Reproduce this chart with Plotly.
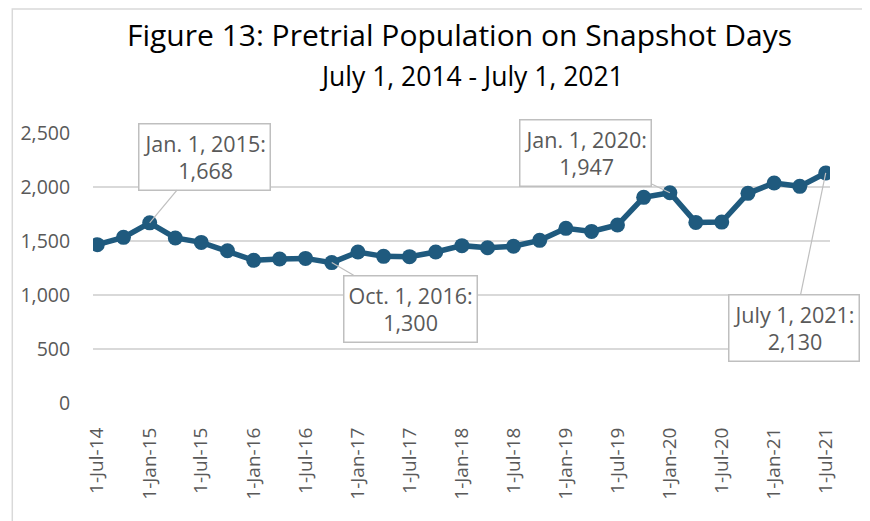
import plotly.graph_objects as go

dates = ["2014-07-01", "2014-10-01", "2015-01-01", "2015-04-01", "2015-07-01", "2015-10-01",
         "2016-01-01", "2016-04-01", "2016-07-01", "2016-10-01", "2017-01-01", "2017-04-01",
         "2017-07-01", "2017-10-01", "2018-01-01", "2018-04-01", "2018-07-01", "2018-10-01",
         "2019-01-01", "2019-04-01", "2019-07-01", "2019-10-01", "2020-01-01", "2020-04-01",
         "2020-07-01", "2020-10-01", "2021-01-01", "2021-04-01", "2021-07-01"]
population = [1466, 1534, 1668, 1528, 1487, 1410, 1321, 1333, 1339, 1300, 1398, 1358,
              1355, 1398, 1457, 1438, 1452, 1506, 1617, 1589, 1648, 1904, 1947, 1672,
              1675, 1941, 2037, 2006, 2130]

tick_dates = ["2014-07-01", "2015-01-01", "2015-07-01", "2016-01-01", "2016-07-01", "2017-01-01",
              "2017-07-01", "2018-01-01", "2018-07-01", "2019-01-01", "2019-07-01", "2020-01-01",
              "2020-07-01", "2021-01-01", "2021-07-01"]
tick_labels = ["1-Jul-14", "1-Jan-15", "1-Jul-15", "1-Jan-16", "1-Jul-16", "1-Jan-17",
               "1-Jul-17", "1-Jan-18", "1-Jul-18", "1-Jan-19", "1-Jul-19", "1-Jan-20",
               "1-Jul-20", "1-Jan-21", "1-Jul-21"]

# callouts: (date, label, box offset x, box offset y)
callouts = [
    ("2015-01-01", "Jan. 1, 2015:<br>1,668", 55, -66),
    ("2016-10-01", "Oct. 1, 2016:<br>1,300", 79, 46),
    ("2020-01-01", "Jan. 1, 2020:<br>1,947", -84, -40),
    ("2021-07-01", "July 1, 2021:<br>2,130", -32, 155),
]

FONT = "Open Sans, sans-serif"
GREY = "#595959"
LINE = "#1f5a7e"

fig = go.Figure()
fig.add_trace(go.Scatter(
    x=dates, y=population, mode="lines+markers",
    line=dict(color=LINE, width=5.5),
    marker=dict(color=LINE, size=15),
    showlegend=False,
))

for d, label, ax, ay in callouts:
    yv = population[dates.index(d)]
    fig.add_annotation(
        x=d, y=yv, text=label, showarrow=True, arrowhead=0, arrowwidth=1.2,
        arrowcolor="#bfbfbf", ax=ax, ay=ay,
        font=dict(family=FONT, size=21.5, color=GREY),
        bgcolor="white", bordercolor="#bfbfbf", borderwidth=1.5, borderpad=4,
    )

# titles placed as annotations for exact placement
fig.add_annotation(text="Figure 13: Pretrial Population on Snapshot Days",
                   xref="paper", yref="paper", x=0.497, y=1.363, yanchor="middle",
                   showarrow=False, font=dict(family=FONT, size=30, color="black"))
fig.add_annotation(text="July 1, 2014 - July 1, 2021",
                   xref="paper", yref="paper", x=0.513, y=1.211, yanchor="middle",
                   showarrow=False, font=dict(family=FONT, size=26.5, color="black"))

fig.add_shape(type="rect", xref="paper", yref="paper",
              x0=-0.1095, x1=1.3, y0=-0.8, y1=1.459,
              line=dict(color="#d9d9d9", width=1.5), layer="below")

fig.update_layout(
    width=862, height=513,
    margin=dict(l=82, r=40, t=125, b=118),
    paper_bgcolor="white", plot_bgcolor="white",
    xaxis=dict(
        tickvals=tick_dates, ticktext=tick_labels, tickangle=-90,
        tickfont=dict(family=FONT, size=19, color=GREY),
        range=["2014-06-16", "2021-07-16"],
        showgrid=False, showline=False, zeroline=False,
        ticks="outside", ticklen=16, tickcolor="rgba(0,0,0,0)",
    ),
    yaxis=dict(
        range=[0, 2500], dtick=500, tickformat=",",
        tickfont=dict(family=FONT, size=19.5, color=GREY),
        gridcolor="#d9d9d9", gridwidth=1.5, zeroline=False, showline=False,
        ticks="outside", ticklen=18, tickcolor="rgba(0,0,0,0)",
    ),
    font=dict(family=FONT),
)

fig.write_html("out.html")
